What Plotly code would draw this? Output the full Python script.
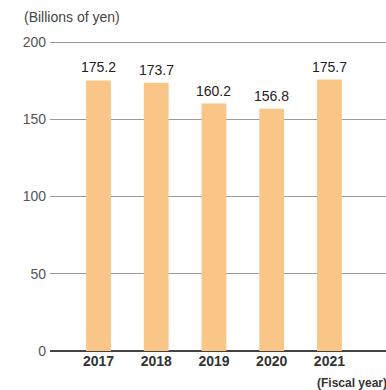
import plotly.graph_objects as go

# Fiscal years and values (billions of yen)
years = ["2017", "2018", "2019", "2020", "2021"]
values = [175.2, 173.7, 160.2, 156.8, 175.7]
y_ticks = [0, 50, 100, 150, 200]

font_family = "Liberation Sans, Arial, sans-serif"

fig = go.Figure(
    go.Bar(
        x=years,
        y=values,
        width=0.43,
        marker=dict(color="#FAC688", line=dict(width=0)),
        hoverinfo="skip",
        cliponaxis=False,
    )
)

# Value labels placed just above each bar (x given as category index)
for i, v in enumerate(values):
    fig.add_annotation(
        x=i, y=v, xref="x", yref="y",
        text=f"{v:.1f}",
        showarrow=False,
        yanchor="bottom",
        yshift=3,
        font=dict(family=font_family, size=14, color="#222222"),
    )

fig.update_layout(
    width=386,
    height=390,
    margin=dict(l=50, r=0, t=39, b=39),
    paper_bgcolor="white",
    plot_bgcolor="white",
    showlegend=False,
    font=dict(family=font_family, color="#333333"),
    xaxis=dict(
        type="category",
        range=[-0.84, 4.98],
        showgrid=False,
        showline=False,
        ticks="",
        tickfont=dict(family=font_family, size=14, color="#333333", weight="bold"),
    ),
    yaxis=dict(
        range=[0, 202],
        tickvals=y_ticks,
        showgrid=True,
        gridcolor="#9a9a9a",
        gridwidth=1,
        zeroline=True,
        zerolinecolor="#444444",
        zerolinewidth=1.6,
        showline=False,
        ticks="",
        ticklabelstandoff=3,
        tickfont=dict(family=font_family, size=14, color="#555555"),
    ),
)

fig.add_annotation(
    text="(Billions of yen)",
    xref="paper", yref="paper",
    x=-0.083, y=1.07,
    xanchor="left", yanchor="middle",
    showarrow=False,
    font=dict(family=font_family, size=14, color="#444444"),
)
fig.add_annotation(
    text="(Fiscal year)",
    xref="paper", yref="paper",
    x=0.79, y=-0.103,
    xanchor="left", yanchor="middle",
    showarrow=False,
    font=dict(family=font_family, size=12, color="#333333", weight="bold"),
)

fig.write_html("out.html")
